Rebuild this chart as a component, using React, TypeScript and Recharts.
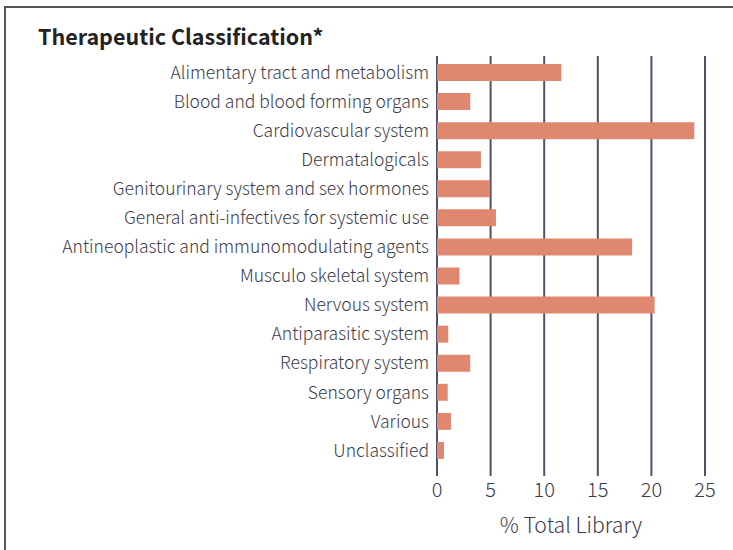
import React from 'react';
import { BarChart, Bar, XAxis, YAxis, CartesianGrid } from 'recharts';

const categories = [
  'Alimentary tract and metabolism',
  'Blood and blood forming organs',
  'Cardiovascular system',
  'Dermatalogicals',
  'Genitourinary system and sex hormones',
  'General anti-infectives for systemic use',
  'Antineoplastic and immunomodulating agents',
  'Musculo skeletal system',
  'Nervous system',
  'Antiparasitic system',
  'Respiratory system',
  'Sensory organs',
  'Various',
  'Unclassified',
];

const values = [11.6, 3.1, 24.0, 4.1, 4.95, 5.5, 18.2, 2.1, 20.3, 1.05, 3.1, 1.0, 1.3, 0.65];

const xTicks = [0, 5, 10, 15, 20, 25];

const data = categories.map((name, i) => ({ name, value: values[i] }));

const FONT = '"Noto Sans CJK KR", "Noto Sans", sans-serif';
const TEXT = '#3b3a48';

export default function App() {
  return (
    <div style={{ position: 'absolute', left: 0, top: 0, width: 733, height: 550, background: '#fff', overflow: 'hidden' }}>
      <div
        style={{
          position: 'absolute',
          left: 4,
          top: 6,
          width: 740,
          height: 560,
          borderTop: '2px solid #555',
          borderLeft: '2px solid #555',
        }}
      />
      <div
        style={{
          position: 'absolute',
          left: 38,
          top: 22,
          fontFamily: FONT,
          fontWeight: 700,
          fontSize: 21.5,
          color: '#222',
          lineHeight: '28px',
          whiteSpace: 'nowrap',
        }}
      >
        Therapeutic Classification*
      </div>
      <div style={{ position: 'absolute', left: 0, top: 0 }}>
        <BarChart
          width={733}
          height={550}
          data={data}
          layout="vertical"
          margin={{ top: 56, right: 28, bottom: 0, left: 0 }}
        >
          <CartesianGrid horizontal={false} stroke="#52516a" strokeWidth={2} />
          <XAxis
            type="number"
            domain={[0, 25]}
            ticks={xTicks}
            axisLine={false}
            tickLine={false}
            tickSize={0}
            tickMargin={7}
            height={74}
            tick={{ fill: TEXT, fontSize: 20, fontFamily: FONT, fontWeight: 300 }}
            label={{
              value: '% Total Library',
              position: 'insideBottom',
              offset: 17,
              fill: TEXT,
              fontSize: 21.2,
              fontFamily: FONT,
              fontWeight: 300,
            }}
          />
          <YAxis
            type="category"
            dataKey="name"
            width={437}
            axisLine={false}
            tickLine={false}
            tickSize={0}
            tickMargin={8}
            interval={0}
            padding={{ top: 2, bottom: 11 }}
            tick={{ fill: TEXT, fontSize: 17.5, fontFamily: FONT, fontWeight: 300 }}
          />
          <Bar dataKey="value" fill="#e08770" barSize={17} isAnimationActive={false} />
        </BarChart>
      </div>
    </div>
  );
}
